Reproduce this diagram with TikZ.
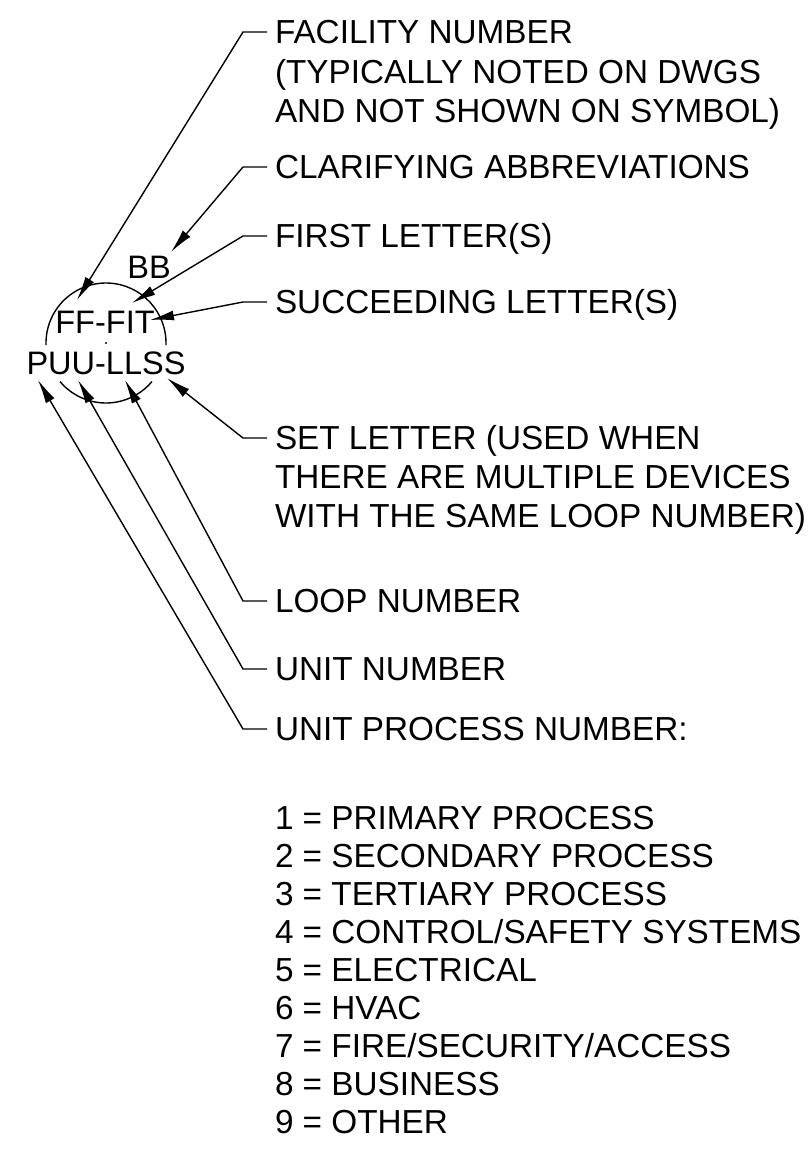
\documentclass[tikz,border=0pt]{standalone}
\usepackage{fontspec}
\setmainfont{Liberation Sans}
\usetikzlibrary{arrows.meta,calc}

\begin{document}
\begin{tikzpicture}[x=1pt,y=1pt,
  lbl/.style={anchor=west, inner sep=0pt, outer sep=8pt, text height=23.8pt, text depth=0pt,
    font=\fontsize{33.3}{39.5}\selectfont},
  symtext/.style={inner sep=0pt, text height=22.5pt, text depth=0pt, font=\fontsize{32.5}{38}\selectfont},
  lead/.style={-{Latex[length=24pt,width=10pt]}, line width=1.4pt},
  ring/.style={line width=1.4pt}
]
  \useasboundingbox (0,0) rectangle (810,-1160);

  \coordinate (ctr) at (106,-343);
  \draw[ring] ($(ctr)+(-2:60)$) arc[start angle=-2, end angle=182, radius=60];
  \draw[ring] ($(ctr)+(220:60)$) arc[start angle=220, end angle=320, radius=60];
  \fill (ctr) circle[radius=1.2pt];

  \node[symtext] (bb) at (149,-267) {BB};
  \node[symtext] (ff) at (105,-322) {FF-FIT};
  \node[symtext] (pu) at (106,-363) {PUU-LLSS};

  \coordinate (tfac) at (77,-300);
  \coordinate (tclar) at (171,-252);
  \coordinate (tfirst) at (132,-303);
  \coordinate (tsucc) at (150,-320);
  \coordinate (tset) at (167,-378);
  \coordinate (tloop) at (125,-380);
  \coordinate (tunit) at (78,-380);
  \coordinate (tupn) at (38,-380);

  \node[lbl] (fac) at (267,-32) {FACILITY NUMBER};
  \node[lbl] (fac2) at (267,-71.5) {(TYPICALLY NOTED ON DWGS};
  \node[lbl] (fac3) at (267,-111) {AND NOT SHOWN ON SYMBOL)};
  \node[lbl] (clar) at (267,-167) {CLARIFYING ABBREVIATIONS};
  \node[lbl] (first) at (267,-236) {FIRST LETTER(S)};
  \node[lbl] (succ) at (267,-302) {SUCCEEDING LETTER(S)};
  \node[lbl] (set) at (267,-438) {SET LETTER (USED WHEN};
  \node[lbl] (set2) at (267,-477) {THERE ARE MULTIPLE DEVICES};
  \node[lbl] (set3) at (267,-516) {WITH THE SAME LOOP NUMBER)};
  \node[lbl] (loop) at (267,-601) {LOOP NUMBER};
  \node[lbl] (unit) at (267,-669) {UNIT NUMBER};
  \node[lbl] (upn) at (267,-729) {UNIT PROCESS NUMBER:};

  \node[lbl] (proc1) at (267,-818) {1 = PRIMARY PROCESS};
  \node[lbl] (proc2) at (267,-856) {2 = SECONDARY PROCESS};
  \node[lbl] (proc3) at (267,-894) {3 = TERTIARY PROCESS};
  \node[lbl] (proc4) at (267,-932) {4 = CONTROL/SAFETY SYSTEMS};
  \node[lbl] (proc5) at (267,-970) {5 = ELECTRICAL};
  \node[lbl] (proc6) at (267,-1008) {6 = HVAC};
  \node[lbl] (proc7) at (267,-1046) {7 = FIRE/SECURITY/ACCESS};
  \node[lbl] (proc8) at (267,-1084) {8 = BUSINESS};
  \node[lbl] (proc9) at (267,-1122) {9 = OTHER};

  \draw[lead] (fac.west) -- ++(-24,0) -- (tfac);
  \draw[lead] (clar.west) -- ++(-24,0) -- (tclar);
  \draw[lead] (first.west) -- ++(-24,0) -- (tfirst);
  \draw[lead] (succ.west) -- ++(-24,0) -- (tsucc);
  \draw[lead] (set.west) -- ++(-24,0) -- (tset);
  \draw[lead] (loop.west) -- ++(-24,0) -- (tloop);
  \draw[lead] (unit.west) -- ++(-24,0) -- (tunit);
  \draw[lead] (upn.west) -- ++(-24,0) -- (tupn);
\end{tikzpicture}
\end{document}
